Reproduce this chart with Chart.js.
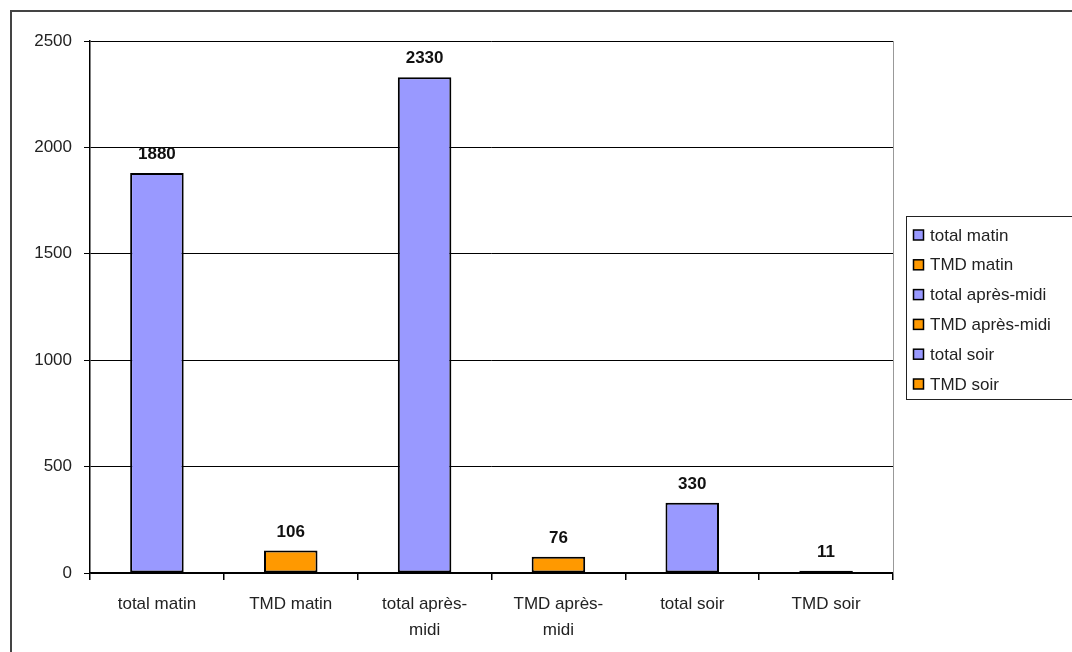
<!DOCTYPE html>
<html>
<head>
<meta charset="utf-8">
<script src="https://cdn.jsdelivr.net/npm/chart.js@4"></script>
<style>
  html, body { margin: 0; padding: 0; background: #fff; overflow: hidden; }
  #wrap { width: 1072px; height: 652px; position: relative; }
</style>
</head>
<body>
<div id="wrap"><canvas id="myChart" width="1072" height="652"></canvas></div>
<script>
// categories + values
const categories = [
  'total matin',
  'TMD matin',
  ['total après-', 'midi'],
  ['TMD après-', 'midi'],
  'total soir',
  'TMD soir'
];
const legendLabels = ['total matin', 'TMD matin', 'total après-midi', 'TMD après-midi', 'total soir', 'TMD soir'];
const values = [1880, 106, 2330, 76, 330, 11];
const yTicks = [0, 500, 1000, 1500, 2000, 2500];

const purple = '#9999FF';
const orange = '#FF9900';
const barColors = [purple, orange, purple, orange, purple, orange];
const FONT = '"Liberation Sans", Arial, sans-serif';

// cadre + bordure droite + légende + étiquettes
const decor = {
  id: 'decor',
  afterDraw(chart) {
    const ctx = chart.ctx;
    const area = chart.chartArea;
    ctx.save();

    // cadre extérieur
    ctx.strokeStyle = '#444';
    ctx.lineWidth = 2;
    ctx.beginPath();
    ctx.moveTo(11, 652);
    ctx.lineTo(11, 11);
    ctx.lineTo(1072, 11);
    ctx.stroke();

    // bord droit de la zone de tracé
    ctx.strokeStyle = '#999';
    ctx.lineWidth = 1;
    ctx.beginPath();
    ctx.moveTo(area.right + 0.5, area.top);
    ctx.lineTo(area.right + 0.5, area.bottom);
    ctx.stroke();

    // valeurs au-dessus des barres
    const meta = chart.getDatasetMeta(0);
    ctx.fillStyle = '#111';
    ctx.font = 'bold 17px ' + FONT;
    ctx.textAlign = 'center';
    ctx.textBaseline = 'bottom';
    meta.data.forEach((bar, i) => {
      ctx.fillText(String(values[i]), bar.x, bar.y - 10);
    });

    // légende
    const lx = 906, ly = 216, lw = 180, lh = 183;
    ctx.strokeStyle = '#222';
    ctx.lineWidth = 1;
    ctx.strokeRect(lx + 0.5, ly + 0.5, lw, lh);
    ctx.font = '17px ' + FONT;
    ctx.textAlign = 'left';
    ctx.textBaseline = 'middle';
    legendLabels.forEach((lab, i) => {
      const cy = 235 + i * 29.8;
      ctx.fillStyle = barColors[i];
      ctx.fillRect(913.5, cy - 5, 10, 10);
      ctx.strokeStyle = '#000';
      ctx.lineWidth = 1.5;
      ctx.strokeRect(913.5, cy - 5, 10, 10);
      ctx.fillStyle = '#222';
      ctx.fillText(lab, 930, cy + 1);
    });

    ctx.restore();
  }
};

new Chart(document.getElementById('myChart').getContext('2d'), {
  type: 'bar',
  data: {
    labels: categories,
    datasets: [{
      data: values,
      backgroundColor: barColors,
      borderColor: '#000',
      borderWidth: 2,
      borderSkipped: false,
      categoryPercentage: 1,
      barPercentage: 0.4
    }]
  },
  options: {
    responsive: false,
    animation: false,
    layout: { padding: { left: 0, top: 41, right: 179, bottom: 0 } },
    scales: {
      x: {
        afterFit: (s) => { s.height = 79; },
        grid: {
          offset: true,
          drawOnChartArea: false,
          drawTicks: true,
          tickLength: 7,
          color: '#000',
          lineWidth: 1.5
        },
        border: { color: '#000', width: 1.5 },
        ticks: {
          color: '#222',
          font: { family: FONT, size: 17, lineHeight: 1.55 },
          padding: 11,
          maxRotation: 0,
          autoSkip: false
        }
      },
      y: {
        min: 0,
        max: 2500,
        afterFit: (s) => { s.width = 90; },
        afterBuildTicks: (s) => { s.ticks = yTicks.map((v) => ({ value: v })); },
        grid: {
          color: '#000',
          tickLength: 6,
          drawTicks: true
        },
        border: { color: '#000', width: 1.5 },
        ticks: {
          color: '#222',
          font: { family: FONT, size: 17 },
          padding: 12,
          callback: (v) => String(v)
        }
      }
    },
    plugins: {
      legend: { display: false },
      tooltip: { enabled: false }
    }
  },
  plugins: [decor]
});
</script>
</body>
</html>
